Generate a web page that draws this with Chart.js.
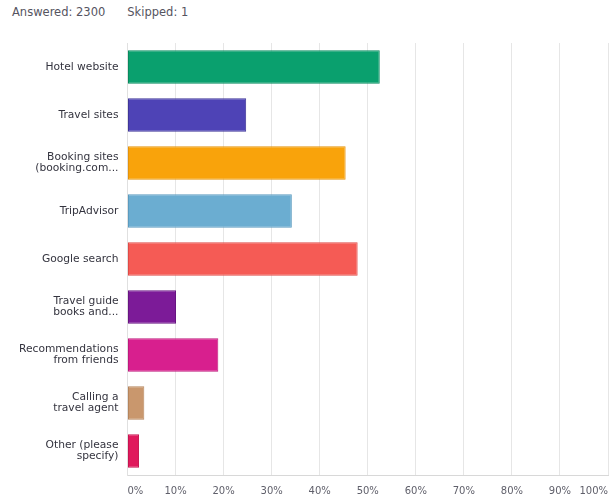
<!DOCTYPE html>
<html>
<head>
<meta charset="utf-8">
<script src="https://cdn.jsdelivr.net/npm/chart.js@4.4.1/dist/chart.umd.min.js"></script>
<style>
  html, body { margin: 0; padding: 0; background: #fff; overflow: hidden; }
  #wrap { position: relative; width: 609px; height: 500px; }
  #summary { position: absolute; left: 12px; top: 5px; font: 11.5px "DejaVu Sans", sans-serif; color: #55545f; }
  #summary span + span { margin-left: 22px; }
  canvas { position: absolute; left: 0; top: 0; }
</style>
</head>
<body>
<div id="wrap">
  <div id="summary"><span>Answered: 2300</span><span>Skipped: 1</span></div>
  <canvas id="chart" width="609" height="500"></canvas>
</div>
<script>
/* Survey answers: percentage of respondents per booking channel */

const CHOICES = [
  'Hotel website',
  'Travel sites',
  ['Booking sites', '(booking.com...'],
  'TripAdvisor',
  'Google search',
  ['Travel guide', 'books and...'],
  ['Recommendations', 'from friends'],
  ['Calling a', 'travel agent'],
  ['Other (please', 'specify)'],
];
const SHARES = [52.5, 24.7, 45.4, 34.2, 47.9, 10.1, 18.9, 3.5, 2.4];
const COLORS = ['#0aa06e', '#4e43b6', '#f9a30b', '#6badd1', '#f55b55', '#7c1b98', '#d81f8e', '#c9976d', '#e0195c'];
const BORDERS = ['#078a5e', '#3f3599', '#e5930a', '#5b9bbf', '#e04b47', '#671581', '#be1a7c', '#b5855c', '#c71450'];
const PCT_TICKS = [0, 10, 20, 30, 40, 50, 60, 70, 80, 90, 100];

new Chart(document.getElementById('chart'), {
  type: 'bar',
  data: {
    labels: CHOICES,
    datasets: [{
      data: SHARES,
      backgroundColor: COLORS,
      borderColor: BORDERS,
      borderWidth: 1,
      borderSkipped: false,
      categoryPercentage: 1,
      barPercentage: 0.7,
    }],
  },
  options: {
    indexAxis: 'y',
    responsive: false,
    animation: false,
    layout: { padding: { top: 43, right: 1, left: 0, bottom: 0 } },
    plugins: { legend: { display: false }, tooltip: { enabled: false } },
    scales: {
      x: {
        min: 0,
        max: 100,
        afterBuildTicks: (s) => { s.ticks = PCT_TICKS.map((v) => ({ value: v })); },
        afterFit: (s) => { s.height = 25; s.paddingLeft = 0; s.paddingRight = 0; },
        grid: { color: '#e6e6e6', drawTicks: false },
        border: { color: '#d8d8d8' },
        ticks: {
          padding: 10,
          align: 'inner',
          maxRotation: 0,
          autoSkip: false,
          color: '#5f5f6a',
          font: { family: 'DejaVu Sans', size: 10 },
          callback: (v) => v + '%',
        },
      },
      y: {
        afterFit: (s) => { s.width = 127.5; },
        grid: { display: false, drawTicks: false },
        border: { color: '#e0e0e0' },
        ticks: {
          padding: 9,
          color: '#34343f',
          font: { family: 'DejaVu Sans', size: 10.7, lineHeight: 1.0 },
        },
      },
    },
  },
});
</script>
</body>
</html>
